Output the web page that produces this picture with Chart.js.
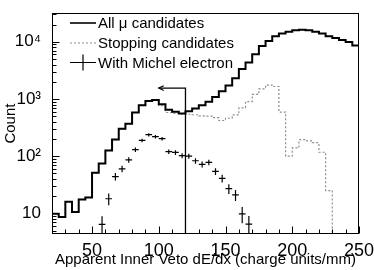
<!DOCTYPE html>
<html><head><meta charset="utf-8">
<script src="https://cdn.jsdelivr.net/npm/chart.js@4.4.0/dist/chart.umd.min.js"></script>
<style>html,body{margin:0;padding:0;background:#fff}#wrap{width:374px;height:270px}</style>
</head><body><div id="wrap"><canvas id="c" width="374" height="270"></canvas></div>
<script>
// ---- data ----
const binLowEdges = [20,25,30,35,40,45,50,55,60,65,70,75,80,85,90,95,100,105,110,115,120,125,130,135,140,145,150,155,160,165,170,175,180,185,190,195,200,205,210,215,220,225,230,235,240,245];
const allMuCounts = [9.8,8.6,16,10.5,17.5,19,51,74,126,195,300,370,580,780,920,960,810,650,600,555,610,680,780,890,1080,1360,1720,2300,3330,4340,6040,8430,10300,12500,13900,15000,15900,16300,15900,15000,13900,12500,11700,10700,9880,8630];
const stoppingCounts = [9.8,8.6,16,10.5,17.5,19,51,74,126,195,300,370,580,780,920,960,760,580,560,545,540,530,505,500,470,420,460,525,700,900,1200,1500,1750,1650,590,100,139,194,185,172,117,25,4.35,4.35,4.35,4.35];
const michelCenters = [57.5,62.5,67.5,72.5,77.5,82.5,87.5,92.5,97.5,102.5,107.5,112.5,117.5,122.5,127.5,132.5,137.5,142.5,147.5,152.5,157.5,162.5,167.5];
const michelCounts = [6.4,18,44,60,86,130,188,237,219,202,120,116,102,100,83,72,78,54,41,27,21,9.8,6.5];
const michelErrors = [2.5,4.2,6.6,7.7,9.3,11.4,13.7,15.4,14.8,14.2,11,10.8,10.1,10,9.1,8.5,8.8,7.3,6.4,5.2,4.6,3.1,2.5];
const xTickValues = [50,100,150,200,250];
const yTickValues = [10,100,1000,10000];
const yTickLabels = ['10','10\u00B2','10\u00B3','10\u2074'];
const legendLabels = ['All \u03BC candidates','Stopping candidates','With Michel electron'];
const cutX = 120, arrowTipX = 100, arrowY = 1550, arrowBackX = 103.7, arrowHeadHi = 1700, arrowHeadLo = 1410;
const X_MIN = 20, X_MAX = 250, Y_MIN = 4.35, Y_MAX = 31600, BIN_W = 5;

// ---- build datasets ----
function stepData(vals){
  const d = binLowEdges.map((e,i)=>({x:e,y:vals[i]}));
  d.push({x:X_MAX,y:vals[vals.length-1]});
  return d;
}
const crossData = [];
michelCenters.forEach((c,i)=>{
  const v = michelCounts[i], e = michelErrors[i];
  crossData.push({x:c-BIN_W/2,y:v},{x:c+BIN_W/2,y:v},{x:c,y:null});
  crossData.push({x:c,y:Math.max(v-e,1)},{x:c,y:v+e},{x:c,y:null});
});
const FONT = "'Liberation Sans', Arial, Helvetica, sans-serif";

const decor = {
  id:'decor',
  afterDatasetsDraw(chart){
    const {ctx, chartArea:a, scales:{x,y}} = chart;
    ctx.save();
    ctx.strokeStyle='#000'; ctx.lineWidth=1;
    const L=Math.round(a.left)+0.5, R=Math.round(a.right)-0.5, T=Math.round(a.top)+0.5, B=Math.round(a.bottom)-0.5;
    ctx.strokeRect(L,T,R-L,B-T);
    ctx.beginPath();
    for(let v=X_MIN; v<=X_MAX; v+=10){
      const px=Math.round(x.getPixelForValue(v))+0.5;
      const len = xTickValues.includes(v)?7:4;
      ctx.moveTo(px,B); ctx.lineTo(px,B-len);
    }
    for(let d=0; d<=4; d++){
      for(let m=1;m<=9;m++){
        const v=m*Math.pow(10,d);
        if(v<=Y_MIN||v>=Y_MAX) continue;
        const py=Math.round(y.getPixelForValue(v))+0.5;
        const len = m===1?7:4;
        ctx.moveTo(L,py); ctx.lineTo(L+len,py);
      }
    }
    ctx.stroke();
    // legend
    const lx0=70, lx1=96, rows=[23,43,62.5];
    ctx.font = "15px "+FONT; ctx.fillStyle='#000'; ctx.textBaseline='middle'; ctx.textAlign='left';
    ctx.lineWidth=1.6; ctx.strokeStyle='#000'; ctx.setLineDash([]);
    ctx.beginPath(); ctx.moveTo(lx0,rows[0]); ctx.lineTo(lx1,rows[0]); ctx.stroke();
    ctx.lineWidth=1.2; ctx.strokeStyle='#8c8c8c'; ctx.setLineDash([2,2]);
    ctx.beginPath(); ctx.moveTo(lx0,rows[1]); ctx.lineTo(lx1,rows[1]); ctx.stroke();
    ctx.setLineDash([]); ctx.strokeStyle='#000'; ctx.lineWidth=1.2;
    ctx.beginPath(); ctx.moveTo(lx0,rows[2]); ctx.lineTo(lx1,rows[2]);
    ctx.moveTo((lx0+lx1)/2,rows[2]-8); ctx.lineTo((lx0+lx1)/2,rows[2]+8); ctx.stroke();
    legendLabels.forEach((t,i)=>ctx.fillText(t,98,rows[i]+1));
    ctx.restore();
  }
};

new Chart(document.getElementById('c'),{
  type:'line',
  data:{datasets:[
    {label:legendLabels[0], data:stepData(allMuCounts), stepped:true, borderColor:'#000', borderWidth:2, pointRadius:0, fill:false, order:1},
    {label:legendLabels[1], data:stepData(stoppingCounts), stepped:true, borderColor:'#8c8c8c', borderWidth:1.2, borderDash:[2,2], pointRadius:0, fill:false, order:5},
    {label:legendLabels[2], data:crossData, borderColor:'#000', borderWidth:1.2, pointRadius:0, spanGaps:false, fill:false, order:2},
    {label:'cut', data:[{x:arrowTipX,y:arrowY},{x:cutX,y:arrowY},{x:cutX,y:Y_MIN}], borderColor:'#000', borderWidth:1.3, pointRadius:0, fill:false, order:3},
    {label:'arrowhead', data:[{x:arrowBackX,y:arrowHeadHi},{x:arrowTipX,y:arrowY},{x:arrowBackX,y:arrowHeadLo}], borderColor:'#000', borderWidth:1.2, pointRadius:0, fill:false, order:3}
  ]},
  options:{
    responsive:false, animation:false, devicePixelRatio:1,
    layout:{padding:{left:0,right:15,top:10,bottom:0}},
    plugins:{legend:{display:false}, tooltip:{enabled:false}},
    elements:{line:{tension:0}},
    scales:{
      x:{type:'linear', min:X_MIN, max:X_MAX,
        afterBuildTicks:s=>{s.ticks=xTickValues.map(v=>({value:v}));},
        afterFit:s=>{s.height=36;},
        grid:{display:false}, border:{display:false},
        ticks:{font:{family:FONT,size:18,lineHeight:1}, color:'#000', padding:0, maxRotation:0, autoSkip:false, callback:v=>String(v)},
        title:{display:true, text:'Apparent Inner Veto dE/dx (charge units/mm)', font:{family:FONT,size:15}, color:'#000', padding:{top:0,bottom:1}}
      },
      y:{type:'logarithmic', min:Y_MIN, max:Y_MAX,
        afterBuildTicks:s=>{s.ticks=yTickValues.map(v=>({value:v}));},
        afterFit:s=>{s.width=52;},
        grid:{display:false}, border:{display:false},
        ticks:{font:{family:FONT,size:17}, color:'#000', padding:3, autoSkip:false, callback:(v,i)=>yTickLabels[i]},
        title:{display:true, text:'Count', font:{family:FONT,size:15}, color:'#000', padding:{top:2,bottom:0}}
      }
    }
  },
  plugins:[decor]
});
</script></body></html>
